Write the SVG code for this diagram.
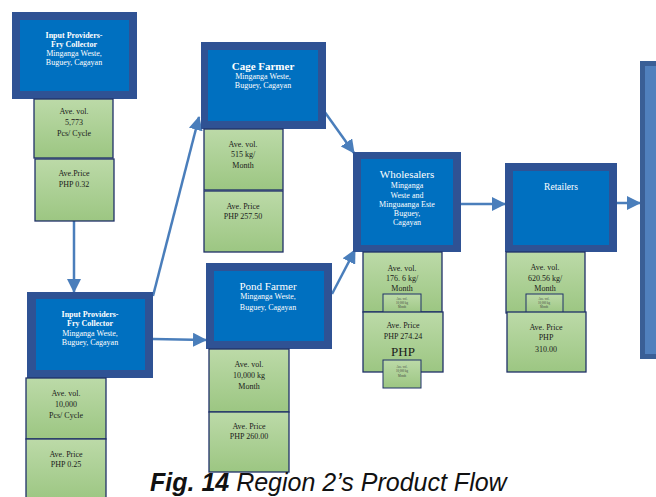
<svg xmlns="http://www.w3.org/2000/svg" width="656" height="497" viewBox="0 0 656 497">
<defs>
<linearGradient id="gr" x1="0" y1="0" x2="0" y2="1">
<stop offset="0" stop-color="#bcdaa8"/>
<stop offset="1" stop-color="#9cc682"/>
</linearGradient>
<marker id="ah" markerUnits="userSpaceOnUse" markerWidth="14" markerHeight="14" viewBox="0 0 14 14" refX="13" refY="7" orient="auto">
<path d="M0,0 L14,7 L0,14 Z" fill="#4a7ebb"/>
</marker>
</defs>
<style>
.outer{fill:#2f5294}
.inner{fill:#0070c0}
.g{fill:url(#gr);stroke:#1f3168;stroke-width:1.3}
.gs{fill:url(#gr);stroke:#1f3168;stroke-width:1}
.wt{fill:#fff;font-family:"Liberation Serif",serif;font-size:8px;text-anchor:middle}
.wb{font-weight:bold}
.bt{fill:#1a1a1a;font-family:"Liberation Serif",serif;font-size:8px;text-anchor:middle}
.st{fill:#444;font-family:"Liberation Serif",serif;font-size:3px;text-anchor:middle}
.conn{stroke:#4a7ebb;stroke-width:2.5;fill:none;marker-end:url(#ah)}
.cap{font-family:"Liberation Sans",Arial,sans-serif;font-size:25px;font-style:italic;fill:#111}
</style>

<g id="connectors">
<path class="conn" d="M74,221 L74,292"/>
<path class="conn" d="M153,296 L199,117"/>
<path class="conn" d="M153,339 L206,340"/>
<path class="conn" d="M324,111 L354,153"/>
<path class="conn" d="M332,294 L355,250"/>
<path class="conn" d="M461,204 L505,204"/>
<path class="conn" d="M617,203 L640,203"/>
</g>

<g id="input1">
<rect class="outer" x="12" y="12" width="125" height="87"/>
<rect class="inner" x="20" y="20" width="109" height="71"/>
<text class="wt wb" x="74" y="38">Input Providers-</text>
<text class="wt wb" x="74" y="47">Fry Collector</text>
<text class="wt" x="74" y="56">Minganga Weste,</text>
<text class="wt" x="74" y="65">Buguey, Cagayan</text>
<rect class="g" x="34" y="99" width="79" height="59"/>
<text class="bt" x="74" y="114">Ave. vol.</text>
<text class="bt" x="74" y="125">5,773</text>
<text class="bt" x="74" y="136">Pcs/ Cycle</text>
<rect class="g" x="35" y="159" width="79" height="62"/>
<text class="bt" x="74" y="176">Ave.Price</text>
<text class="bt" x="74" y="187">PHP 0.32</text>
</g>

<g id="input2">
<rect class="outer" x="27" y="292" width="126" height="86"/>
<rect class="inner" x="36" y="299" width="109" height="71"/>
<text class="wt wb" x="90" y="317">Input Providers-</text>
<text class="wt wb" x="90" y="326">Fry Collector</text>
<text class="wt" x="90" y="336">Minganga Weste,</text>
<text class="wt" x="90" y="345">Buguey, Cagayan</text>
<rect class="g" x="26" y="378" width="80" height="61"/>
<text class="bt" x="66" y="396">Ave. vol.</text>
<text class="bt" x="66" y="407">10,000</text>
<text class="bt" x="66" y="418">Pcs/ Cycle</text>
<rect class="g" x="26" y="439" width="80" height="62"/>
<text class="bt" x="66" y="457">Ave. Price</text>
<text class="bt" x="66" y="467">PHP 0.25</text>
</g>

<g id="cage">
<rect class="outer" x="201" y="42" width="125" height="87"/>
<rect class="inner" x="208" y="50" width="110" height="71"/>
<text class="wt wb" x="263" y="70" style="font-size:11px">Cage Farmer</text>
<text class="wt" x="263" y="79">Minganga Weste,</text>
<text class="wt" x="263" y="88">Buguey, Cagayan</text>
<rect class="g" x="204" y="129" width="79" height="61"/>
<text class="bt" x="243" y="147">Ave. vol.</text>
<text class="bt" x="243" y="157">515 kg/</text>
<text class="bt" x="243" y="168">Month</text>
<rect class="g" x="204" y="191" width="79" height="61"/>
<text class="bt" x="243" y="209">Ave. Price</text>
<text class="bt" x="243" y="219">PHP 257.50</text>
</g>

<g id="pond">
<rect class="outer" x="206" y="263" width="126" height="86"/>
<rect class="inner" x="214" y="271" width="110" height="70"/>
<text class="wt" x="268" y="290" style="font-size:11px">Pond Farmer</text>
<text class="wt" x="268" y="299">Minganga Weste,</text>
<text class="wt" x="268" y="310">Buguey, Cagayan</text>
<rect class="g" x="209" y="349" width="80" height="63"/>
<text class="bt" x="249" y="367">Ave. vol.</text>
<text class="bt" x="249" y="378">10,000 kg</text>
<text class="bt" x="249" y="389">Month</text>
<rect class="g" x="209" y="412" width="80" height="60"/>
<text class="bt" x="249" y="429">Ave. Price</text>
<text class="bt" x="249" y="439">PHP 260.00</text>
</g>

<g id="wholesalers">
<rect class="outer" x="353" y="152" width="108" height="100"/>
<rect class="inner" x="361" y="159" width="92" height="86"/>
<text class="wt" x="407" y="178" style="font-size:11px">Wholesalers</text>
<text class="wt" x="407" y="188">Minganga</text>
<text class="wt" x="407" y="198">Weste and</text>
<text class="wt" x="407" y="207">Minguaanga Este</text>
<text class="wt" x="407" y="216">Buguey,</text>
<text class="wt" x="407" y="225">Cagayan</text>
<rect class="g" x="363" y="252" width="79" height="60"/>
<text class="bt" x="402" y="271">Ave. vol.</text>
<text class="bt" x="402" y="281">176. 6 kg/</text>
<text class="bt" x="402" y="291">Month</text>
<rect class="gs" x="383" y="294" width="38" height="20"/>
<text class="st" x="402" y="300">Ave. vol.</text>
<text class="st" x="402" y="304">10,000 kg</text>
<text class="st" x="402" y="308">Month</text>
<rect class="g" x="363" y="312" width="80" height="60"/>
<text class="bt" x="403" y="328">Ave. Price</text>
<text class="bt" x="403" y="339">PHP 274.24</text>
<text class="bt" x="403" y="356" style="font-size:13px">PHP</text>
<rect class="gs" x="383" y="360" width="38" height="28"/>
<text class="st" x="402" y="368">Ave. vol.</text>
<text class="st" x="402" y="372">10,000 kg</text>
<text class="st" x="402" y="377">Month</text>
</g>

<g id="retailers">
<rect class="outer" x="505" y="163" width="112" height="89"/>
<rect class="inner" x="513" y="171" width="96" height="74"/>
<text class="wt" x="561" y="190" style="font-size:9.5px">Retailers</text>
<rect class="g" x="506" y="252" width="79" height="61"/>
<text class="bt" x="545" y="270">Ave. vol.</text>
<text class="bt" x="545" y="281">620.56 kg/</text>
<text class="bt" x="545" y="291">Month</text>
<rect class="gs" x="526" y="294" width="37" height="20"/>
<text class="st" x="544" y="300">Ave. vol.</text>
<text class="st" x="544" y="304">10,000 kg</text>
<text class="st" x="544" y="308">Month</text>
<rect class="g" x="507" y="312" width="79" height="60"/>
<text class="bt" x="546" y="330">Ave. Price</text>
<text class="bt" x="546" y="340">PHP</text>
<text class="bt" x="546" y="352">310.00</text>
</g>

<g id="consumer">
<rect x="640" y="61" width="30" height="298" fill="#3a5f96"/>
<rect x="645" y="66" width="30" height="288" fill="#5080bd"/>
</g>

<text class="cap" x="150" y="491"><tspan font-weight="bold">Fig. 14</tspan> Region 2’s Product Flow</text>
</svg>
